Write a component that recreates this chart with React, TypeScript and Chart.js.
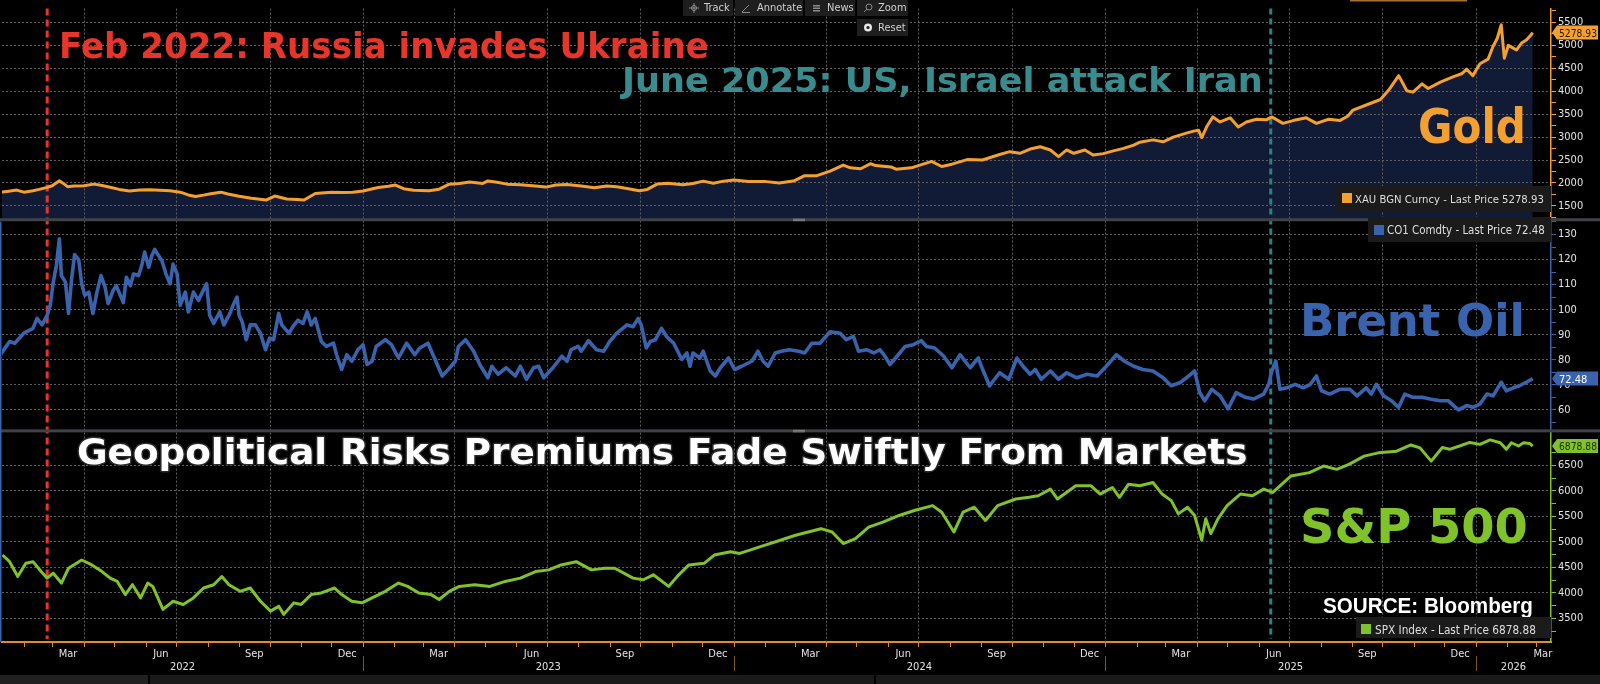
import React, { useEffect, useRef } from 'react';
import { Chart, registerables } from 'chart.js';

Chart.register(...registerables);

// x = days since 1 Jan 2022
const goldPoints: [number, number][] = [
  [9, 1800], [16, 1820], [24, 1845], [31, 1800], [40, 1830], [46, 1860], [54, 1905], [59, 1940], [66, 2050], [70, 1990],
  [74, 1920], [80, 1935], [90, 1940], [100, 1975], [107, 1950], [117, 1900], [125, 1860], [135, 1825], [145, 1845], [155, 1850],
  [165, 1840], [175, 1830], [185, 1800], [193, 1740], [200, 1705], [208, 1735], [215, 1765], [225, 1800], [232, 1760], [243, 1710],
  [255, 1665], [270, 1630], [278, 1715], [290, 1650], [300, 1640], [307, 1630], [318, 1770], [334, 1800], [345, 1790], [355, 1800],
  [365, 1825], [380, 1900], [390, 1930], [397, 1955], [405, 1875], [415, 1840], [430, 1830], [440, 1865], [450, 1975], [460, 1990],
  [470, 2020], [483, 1990], [488, 2045], [497, 2015], [507, 1975], [520, 1960], [535, 1935], [545, 1910], [555, 1955], [566, 1965],
  [580, 1935], [593, 1895], [605, 1935], [615, 1920], [625, 1880], [637, 1830], [645, 1860], [655, 1980], [665, 1995], [680, 1960],
  [690, 1990], [700, 2040], [710, 1995], [720, 2040], [730, 2065], [745, 2030], [760, 2035], [775, 2000], [790, 2050], [800, 2160],
  [812, 2160], [825, 2260], [838, 2390], [845, 2330], [855, 2310], [865, 2420], [870, 2380], [885, 2350], [890, 2300], [905, 2330],
  [925, 2470], [935, 2360], [945, 2410], [960, 2510], [975, 2500], [992, 2620], [1002, 2683], [1012, 2647], [1022, 2740], [1032, 2790],
  [1042, 2719], [1050, 2575], [1058, 2720], [1065, 2647], [1076, 2720], [1084, 2611], [1094, 2640], [1104, 2700], [1114, 2755], [1124, 2826],
  [1130, 2890], [1143, 2940], [1153, 2898], [1163, 3000], [1175, 3080], [1183, 3130], [1188, 3150], [1191, 2990], [1196, 3230], [1202, 3440],
  [1209, 3330], [1219, 3420], [1227, 3220], [1235, 3330], [1245, 3390], [1255, 3380], [1260, 3440], [1271, 3300], [1281, 3360], [1294, 3420],
  [1304, 3300], [1316, 3390], [1327, 3360], [1335, 3460], [1340, 3590], [1353, 3700], [1367, 3820], [1375, 4020], [1385, 4340], [1393, 4010],
  [1399, 3980], [1408, 4160], [1414, 4060], [1426, 4200], [1439, 4320], [1447, 4380], [1452, 4480], [1458, 4340], [1465, 4600], [1473, 4700],
  [1478, 4980], [1482, 5150], [1486, 5450], [1489, 4720], [1493, 5000], [1497, 4950], [1501, 4900], [1506, 5050], [1511, 5120], [1515, 5220],
  [1517, 5278.93],
];

const oilPoints: [number, number][] = [
  [8, 82.0], [17, 87.3], [22, 86.6], [31, 90.6], [40, 92.5], [44, 96.5], [49, 93.9], [54, 97.8], [57, 101.7], [60, 111],
  [63, 117.5], [66, 128.3], [68, 113.6], [72, 111], [75, 98.5], [78, 112], [81, 122], [85, 120], [88, 110.3], [91, 105.7],
  [95, 107], [99, 98.5], [103, 107], [107, 113.6], [111, 109], [114, 102.4], [119, 107.7], [122, 109.6], [126, 105.7], [129, 102.8],
  [132, 112.9], [136, 109.6], [139, 114.2], [144, 113.6], [147, 117.5], [150, 123], [154, 116.9], [157, 121.5], [160, 124.1], [163, 122],
  [167, 119.5], [171, 114.2], [175, 110.3], [178, 118.2], [182, 114.2], [185, 101.7], [190, 107], [193, 99.1], [198, 107], [203, 103.7],
  [206, 106.3], [211, 110.3], [214, 97.8], [218, 94.5], [224, 99.1], [228, 93.9], [234, 98.5], [237, 101.7], [241, 105], [243, 97.8],
  [246, 95.2], [250, 88], [254, 93.9], [259, 93.9], [264, 90.6], [269, 84], [273, 88.6], [277, 88], [282, 98.5], [285, 93.9],
  [292, 90.6], [296, 93.2], [301, 95.8], [306, 94.5], [310, 99.1], [314, 93.9], [318, 96.5], [324, 87.3], [329, 85.3], [336, 86.6],
  [339, 82], [344, 76.1], [349, 82], [354, 79.4], [360, 84], [365, 86], [369, 78.1], [374, 79.4], [378, 85.3], [387, 88],
  [393, 86], [400, 80.7], [408, 86.6], [416, 82], [421, 84.7], [429, 86.6], [434, 82], [443, 73.5], [449, 76.1], [456, 79.4],
  [459, 85.3], [466, 88], [474, 83.4], [480, 78.1], [488, 72.8], [492, 77.4], [498, 74.2], [506, 76.8], [515, 73.5], [520, 77.4],
  [526, 72.2], [533, 76.8], [538, 77.4], [543, 72.8], [552, 76.8], [561, 81.4], [566, 79.4], [570, 84], [577, 85.3], [580, 83.4],
  [587, 87.6], [595, 84], [602, 83.4], [608, 87.3], [615, 90.6], [625, 93.9], [631, 93.2], [636, 96.5], [639, 93.9], [644, 84.7],
  [648, 87.3], [653, 88], [659, 92.5], [664, 89.3], [671, 86.6], [679, 80.1], [684, 82.7], [687, 77.4], [690, 82.7], [697, 80.7],
  [700, 83.4], [707, 75.5], [712, 73.5], [717, 76.8], [725, 80.7], [731, 76.1], [738, 77.4], [748, 79.4], [754, 83.4], [759, 79.4],
  [764, 77.4], [771, 82.7], [777, 83.4], [785, 84], [794, 83.4], [800, 82.7], [807, 86.6], [815, 86.6], [825, 91.2], [835, 90.6],
  [841, 88], [848, 89.3], [853, 83.4], [861, 84], [868, 82.7], [874, 84], [879, 81.4], [884, 78.1], [891, 81.4], [899, 85.3],
  [907, 86], [915, 87.6], [920, 85.3], [928, 84.7], [937, 81.4], [945, 76.8], [953, 82], [963, 76.8], [971, 80.7], [974, 77.4],
  [982, 69.6], [992, 74.8], [1001, 72.2], [1009, 80.7], [1015, 77.4], [1022, 74.2], [1027, 76.1], [1033, 72.2], [1042, 75.5], [1050, 72.2],
  [1058, 74.8], [1068, 72.8], [1078, 74.2], [1088, 73.5], [1097, 77.4], [1107, 82], [1115, 79.4], [1124, 77.4], [1133, 76.1], [1143, 75.5],
  [1153, 72.8], [1161, 69.6], [1170, 70.9], [1176, 72.8], [1184, 75.5], [1189, 66.9], [1194, 63.6], [1201, 68.2], [1209, 65.6], [1217, 60.4],
  [1225, 66.9], [1234, 65], [1242, 64.3], [1252, 66.3], [1257, 70.2], [1260, 75.5], [1264, 79.4], [1268, 68.2], [1275, 68.8], [1283, 70.2],
  [1291, 68.8], [1298, 70.2], [1304, 73.5], [1309, 67.6], [1317, 66.3], [1327, 68.2], [1337, 68.2], [1344, 65.6], [1353, 68.8], [1358, 66.3],
  [1363, 70.2], [1370, 65.6], [1378, 63.6], [1385, 61], [1391, 66.3], [1399, 65], [1408, 65], [1416, 64.3], [1426, 63.6], [1434, 63.6],
  [1439, 61.7], [1444, 60], [1452, 61.7], [1458, 61], [1465, 62.3], [1472, 66.3], [1478, 65.6], [1486, 71], [1491, 67.6], [1498, 68.8],
  [1504, 69.6], [1508, 70.5], [1512, 71.3], [1517, 72.48],
];

const spxPoints: [number, number][] = [
  [10, 4741], [17, 4611], [25, 4320], [33, 4579], [40, 4611], [48, 4417], [54, 4288], [60, 4385], [68, 4191], [75, 4482],
  [88, 4644], [98, 4547], [108, 4417], [116, 4288], [123, 4223], [131, 3965], [138, 4159], [146, 3900], [153, 4191], [158, 4126],
  [168, 3674], [178, 3835], [188, 3771], [198, 3900], [208, 4094], [218, 4159], [226, 4320], [233, 4159], [244, 4029], [254, 4094],
  [264, 3835], [274, 3641], [282, 3738], [287, 3577], [297, 3803], [304, 3771], [314, 3965], [324, 3997], [337, 4094], [344, 3965],
  [354, 3835], [364, 3803], [374, 3900], [387, 4029], [400, 4191], [409, 4126], [420, 3997], [432, 3965], [440, 3868], [450, 4029],
  [460, 4126], [475, 4159], [490, 4126], [505, 4223], [520, 4288], [535, 4417], [548, 4450], [560, 4547], [575, 4611], [590, 4450],
  [603, 4482], [613, 4482], [631, 4288], [641, 4256], [651, 4353], [666, 4126], [676, 4353], [686, 4547], [701, 4579], [711, 4741],
  [727, 4805], [736, 4773], [746, 4838], [761, 4935], [776, 5032], [791, 5129], [816, 5258], [827, 5193], [838, 4967], [850, 5064],
  [863, 5290], [877, 5388], [893, 5517], [908, 5614], [926, 5711], [935, 5582], [947, 5193], [956, 5582], [967, 5679], [978, 5420],
  [990, 5711], [1008, 5840], [1021, 5873], [1030, 5905], [1042, 6034], [1049, 5840], [1067, 6099], [1082, 6099], [1091, 5937], [1103, 6067],
  [1110, 5873], [1119, 6131], [1130, 6099], [1143, 6164], [1152, 5937], [1161, 5808], [1168, 5549], [1177, 5679], [1184, 5517], [1191, 5032],
  [1195, 5452], [1200, 5161], [1207, 5452], [1216, 5711], [1229, 5937], [1241, 5905], [1252, 6034], [1261, 5970], [1270, 6131], [1279, 6293],
  [1297, 6358], [1311, 6487], [1324, 6422], [1336, 6519], [1351, 6681], [1365, 6746], [1383, 6778], [1397, 6900], [1406, 6843], [1417, 6584],
  [1428, 6850], [1435, 6815], [1445, 6880], [1455, 6950], [1465, 6912], [1475, 7000], [1485, 6944], [1491, 6815], [1496, 6944], [1503, 6880],
  [1508, 6944], [1514, 6930], [1517, 6878.88],
];

const goldTicks = [1500, 2000, 2500, 3000, 3500, 4000, 4500, 5000, 5500];
const oilTicks = [60, 70, 80, 90, 100, 110, 120, 130];
const spxTicks = [3500, 4000, 4500, 5000, 5500, 6000, 6500];
const monthLabels = ['Jan', 'Feb', 'Mar', 'Apr', 'May', 'Jun', 'Jul', 'Aug', 'Sep', 'Oct', 'Nov', 'Dec'];
const labelledMonths = [2, 5, 8, 11];
const years = [2022, 2023, 2024, 2025, 2026];
const eventDays = [54, 1259]; // 24 Feb 2022, 13 Jun 2025
const eventTexts = ['Feb 2022: Russia invades Ukraine', 'June 2025: US, Israel attack Iran'];
const seriesNames = ['Gold', 'Brent Oil', 'S&P 500'];
const tickerNames = ['XAU BGN Curncy', 'CO1 Comdty', 'SPX Index'];
const titleText = 'Geopolitical Risks Premiums Fade Swiftly From Markets';
const sourceText = 'SOURCE: Bloomberg';
const toolbarLabels = ['Track', 'Annotate', 'News', 'Zoom', 'Reset'];

const X_MIN = 9.5;
const X_MAX = 1535;
const GOLD_RANGE = [1199, 5801];
const OIL_RANGE = [51.6, 135.9];
const SPX_RANGE = [3035, 7177];

const GOLD = '#f4a031';
const OIL = '#3a63ad';
const SPX = '#80c229';
const GRID = '#5e5e5e';
const AXIS_ORANGE = '#e08b2c';
const TRANSPARENT = 'rgba(0,0,0,0)';
const COND = '"DejaVu Sans Condensed", "Liberation Sans Narrow", "Arial Narrow", sans-serif';
const BOLD = '"DejaVu Sans", Verdana, sans-serif';
const ARIAL = '"Liberation Sans", Arial, sans-serif';

const DAY0 = Date.UTC(2022, 0, 1);
const dayOf = (y: number, m: number, d: number) => (Date.UTC(y, m, d) - DAY0) / 86400000;

function buildXTicks() {
  const out: any[] = [];
  for (const y of years) {
    for (let m = 0; m < 12; m++) {
      const start = dayOf(y, m, 1);
      const end = dayOf(y, m + 1, 1);
      if (start > X_MIN && start < X_MAX) out.push({ value: start, kind: m % 3 === 0 ? 'quarter' : 'month' });
      if (labelledMonths.includes(m) && start < X_MAX && end > X_MIN) {
        out.push({ value: Math.min((start + end) / 2, X_MAX - 8), kind: 'label', lab: monthLabels[m] });
      }
    }
  }
  for (const y of years) {
    const a = Math.max(dayOf(y, 0, 1), X_MIN);
    const b = Math.min(dayOf(y + 1, 0, 1), X_MAX);
    if (b > a) out.push({ value: (a + b) / 2, kind: 'year', lab: ['', String(y)] });
  }
  out.sort((p, q) => p.value - q.value);
  return out;
}
const X_TICKS = buildXTicks();

function buildYTicks(major: number[], range: number[]) {
  const step = major[1] - major[0];
  const out: any[] = [];
  const vals: number[] = [];
  major.forEach((v) => { vals.push(v); vals.push(v + step / 2); vals.push(v - step / 2); });
  Array.from(new Set(vals)).sort((a, b) => a - b).forEach((v) => {
    if (v >= range[0] && v <= range[1]) out.push({ value: v, kind: major.includes(v) ? 'major' : 'minor' });
  });
  return out;
}

function yScale(range: number[], major: number[], color: string) {
  return {
    type: 'linear',
    position: 'right',
    stack: 'panels',
    stackWeight: 1,
    min: range[0],
    max: range[1],
    afterBuildTicks: (s: any) => { s.ticks = buildYTicks(major, range); },
    afterFit: (s: any) => { s.width = 49; },
    grid: {
      color: (c: any) => (c.tick && c.tick.kind === 'major' ? GRID : TRANSPARENT),
      lineWidth: 1,
      drawTicks: true,
      tickLength: 5,
      tickColor: color,
      tickWidth: 1,
      tickBorderDash: [],
    },
    border: { display: true, color, width: 1.5, dash: [2, 2] },
    ticks: {
      autoSkip: false,
      padding: 2,
      color: '#e2e2e2',
      font: { family: COND, size: 11 },
      callback: (v: any, i: number, t: any[]) => (t[i] && t[i].kind === 'major' ? String(v) : ''),
    },
  };
}

function fitText(ctx: CanvasRenderingContext2D, text: string, x: number, base: number, width: number, capH: number,
  weight: string, family: string, color: string, stroke?: string) {
  ctx.save();
  ctx.font = `${weight} 100px ${family}`;
  const w = ctx.measureText(text).width;
  const size = (100 * width) / w;
  ctx.font = `${weight} ${size}px ${family}`;
  const cap = ctx.measureText('H').actualBoundingBoxAscent || size * 0.73;
  const sy = capH ? capH / cap : 1;
  ctx.translate(x, base);
  ctx.scale(1, sy);
  ctx.textAlign = 'left';
  ctx.textBaseline = 'alphabetic';
  if (stroke) {
    ctx.lineWidth = 3;
    ctx.lineJoin = 'round';
    ctx.strokeStyle = stroke;
    ctx.strokeText(text, 0, 0);
  }
  ctx.fillStyle = color;
  ctx.fillText(text, 0, 0);
  ctx.restore();
}

function drawTag(ctx: CanvasRenderingContext2D, y: number, text: string, bg: string, fg: string) {
  const x0 = 1552;
  const h = 14;
  ctx.save();
  ctx.beginPath();
  ctx.moveTo(x0, y);
  ctx.lineTo(x0 + 5, y - h / 2);
  ctx.lineTo(1598, y - h / 2);
  ctx.lineTo(1598, y + h / 2);
  ctx.lineTo(x0 + 5, y + h / 2);
  ctx.closePath();
  ctx.fillStyle = bg;
  ctx.fill();
  ctx.restore();
  ctx.save();
  ctx.font = `11px ${COND}`;
  const w = ctx.measureText(text).width;
  const maxW = 38;
  ctx.translate(1559, y + 4);
  if (w > maxW) ctx.scale(maxW / w, 1);
  ctx.fillStyle = fg;
  ctx.textAlign = 'left';
  ctx.textBaseline = 'alphabetic';
  ctx.fillText(text, 0, 0);
  ctx.restore();
}

function drawLegend(ctx: CanvasRenderingContext2D, box: number[], sq: number[], textX: number, base: number, textW: number,
  text: string, color: string) {
  ctx.save();
  ctx.fillStyle = '#1b1b1b';
  ctx.fillRect(box[0], box[1], box[2], box[3]);
  ctx.fillStyle = color;
  ctx.fillRect(sq[0], sq[1], sq[2], sq[3]);
  ctx.restore();
  fitText(ctx, text, textX, base, textW, 0, 'normal', COND, '#dedede');
}

const overlayPlugin = {
  id: 'overlay',
  beforeDatasetsDraw(chart: any) {
    const { ctx, chartArea, scales } = chart;
    const xs = scales.x;
    // quarterly vertical grid lines and monthly tick marks from the x scale's ticks
    ctx.save();
    ctx.strokeStyle = GRID;
    ctx.lineWidth = 1;
    ctx.setLineDash([2, 2]);
    ctx.beginPath();
    xs.ticks.forEach((t: any) => {
      if (t.kind === 'quarter') {
        const x = Math.round(xs.getPixelForValue(t.value)) + 0.5;
        ctx.moveTo(x, chartArea.top);
        ctx.lineTo(x, chartArea.bottom);
      }
    });
    ctx.stroke();
    ctx.setLineDash([]);
    ctx.strokeStyle = AXIS_ORANGE;
    ctx.beginPath();
    xs.ticks.forEach((t: any) => {
      if (t.kind === 'quarter' || t.kind === 'month') {
        const x = Math.round(xs.getPixelForValue(t.value)) + 0.5;
        ctx.moveTo(x, chartArea.bottom + 1);
        ctx.lineTo(x, chartArea.bottom + 5);
      }
    });
    ctx.stroke();
    ctx.restore();

    const styles = [
      { color: '#e6352b', dash: [7, 4] },
      { color: '#2c8183', dash: [6, 4] },
    ];
    eventDays.forEach((d, i) => {
      const x = xs.getPixelForValue(d);
      ctx.save();
      ctx.strokeStyle = styles[i].color;
      ctx.lineWidth = 3;
      ctx.setLineDash(styles[i].dash);
      ctx.beginPath();
      ctx.moveTo(x, chartArea.top);
      ctx.lineTo(x, chartArea.bottom - 3);
      ctx.stroke();
      ctx.restore();
    });
  },
  afterDraw(chart: any) {
    const { ctx, chartArea, scales } = chart;
    const W = chart.width;
    const seps = [scales.yGold.bottom, scales.yOil.bottom];
    ctx.save();
    seps.forEach((y: number) => {
      ctx.fillStyle = '#3f4247';
      ctx.fillRect(0, y - 1.5, W, 3);
      ctx.fillStyle = '#9a9a9a';
      ctx.fillRect(793, y - 1, 12, 0.8);
      ctx.fillRect(793, y + 0.6, 12, 0.8);
    });
    ctx.fillStyle = OIL;
    ctx.fillRect(0, scales.yOil.top + 2, 1.5, chartArea.bottom - scales.yOil.top - 2);
    ctx.fillStyle = '#a8702c';
    ctx.fillRect(1350, 0, 117, 1.5);
    ctx.strokeStyle = '#7d5120';
    ctx.lineWidth = 1;
    years.forEach((y) => {
      const d = dayOf(y, 0, 1);
      if (d > X_MIN && d < X_MAX) {
        const x = Math.round(scales.x.getPixelForValue(d)) + 0.5;
        ctx.beginPath();
        ctx.moveTo(x, 656);
        ctx.lineTo(x, 671);
        ctx.stroke();
      }
    });
    ctx.restore();

    fitText(ctx, eventTexts[0], 59, 58, 650, 26, 'bold', BOLD, '#e6352b');
    fitText(ctx, eventTexts[1], 622, 92, 641, 25, 'bold', BOLD, '#3a8b8d');
    fitText(ctx, seriesNames[0], 1418, 143, 108, 36, 'bold', BOLD, GOLD);
    fitText(ctx, seriesNames[1], 1300, 336, 225, 33, 'bold', BOLD, OIL);
    fitText(ctx, seriesNames[2], 1300, 543, 228, 35, 'bold', BOLD, SPX);
    fitText(ctx, titleText, 77, 464, 1171, 26, 'bold', BOLD, '#ffffff', '#2a2a2a');
    fitText(ctx, sourceText, 1323, 613, 210, 15, 'bold', ARIAL, '#ffffff');

    const gLast = goldPoints[goldPoints.length - 1][1];
    const oLast = oilPoints[oilPoints.length - 1][1];
    const sLast = spxPoints[spxPoints.length - 1][1];
    drawLegend(ctx, [1335, 186, 216, 26], [1342, 193, 10, 10], 1355, 203, 189,
      `${tickerNames[0]} - Last Price ${gLast.toFixed(2)}`, GOLD);
    drawLegend(ctx, [1368, 217, 183, 25], [1374, 225, 10, 10], 1387, 234, 158,
      `${tickerNames[1]} - Last Price ${oLast.toFixed(2)}`, OIL);
    drawLegend(ctx, [1356, 617, 195, 21], [1361, 624, 10, 10], 1375, 634, 161,
      `${tickerNames[2]} - Last Price ${sLast.toFixed(2)}`, SPX);

    drawTag(ctx, scales.yGold.getPixelForValue(gLast), gLast.toFixed(2), GOLD, '#2a1a00');
    drawTag(ctx, scales.yOil.getPixelForValue(oLast), oLast.toFixed(2), OIL, '#ffffff');
    drawTag(ctx, scales.ySpx.getPixelForValue(sLast), sLast.toFixed(2), SPX, '#1a2a00');

    const btns = [
      { x: 683, y: 0, w: 50, h: 16, tx: 704 },
      { x: 735, y: 0, w: 68, h: 16, tx: 757 },
      { x: 805, y: 0, w: 50, h: 16, tx: 827 },
      { x: 857, y: 0, w: 51, h: 16, tx: 878 },
      { x: 857, y: 19, w: 51, h: 17, tx: 878 },
    ];
    ctx.save();
    btns.forEach((b, i) => {
      ctx.fillStyle = '#1e1e1e';
      ctx.fillRect(b.x, b.y, b.w, b.h);
      ctx.fillStyle = '#cfcfcf';
      ctx.font = `11px ${COND}`;
      ctx.textAlign = 'left';
      ctx.textBaseline = 'middle';
      ctx.fillText(toolbarLabels[i], b.tx, b.y + b.h / 2 + 0.5);
      const cx = b.x + 11;
      const cy = b.y + b.h / 2;
      ctx.strokeStyle = '#8a8a8a';
      ctx.fillStyle = '#8a8a8a';
      ctx.lineWidth = 1;
      ctx.beginPath();
      if (i === 0) {
        ctx.arc(cx, cy, 2.5, 0, Math.PI * 2);
        ctx.moveTo(cx - 5, cy); ctx.lineTo(cx + 5, cy);
        ctx.moveTo(cx, cy - 5); ctx.lineTo(cx, cy + 5);
        ctx.stroke();
      } else if (i === 1) {
        ctx.moveTo(cx - 4, cy + 4); ctx.lineTo(cx + 3, cy - 3);
        ctx.moveTo(cx - 4, cy + 4.5); ctx.lineTo(cx + 4, cy + 4.5);
        ctx.stroke();
      } else if (i === 2) {
        ctx.fillRect(cx - 3, cy - 3, 7, 1.5);
        ctx.fillRect(cx - 3, cy - 0.5, 7, 1.5);
        ctx.fillRect(cx - 3, cy + 2, 7, 1.5);
      } else if (i === 3) {
        ctx.arc(cx + 1, cy - 1, 3, 0, Math.PI * 2);
        ctx.moveTo(cx - 1, cy + 1); ctx.lineTo(cx - 4, cy + 4);
        ctx.stroke();
      } else {
        ctx.fillStyle = '#e8e8e8';
        ctx.arc(cx, cy, 4, 0, Math.PI * 2);
        ctx.fill();
        ctx.beginPath();
        ctx.fillStyle = '#1e1e1e';
        ctx.arc(cx, cy, 1.6, 0, Math.PI * 2);
        ctx.fill();
      }
    });
    ctx.restore();
  },
};

const toXY = (pts: [number, number][]) => pts.map(([x, y]) => ({ x, y }));

export default function App() {
  const ref = useRef<HTMLCanvasElement>(null);
  useEffect(() => {
    document.body.style.margin = '0';
    document.body.style.background = '#000';
    const chart = new Chart(ref.current as HTMLCanvasElement, {
      type: 'line',
      data: {
        datasets: [
          {
            label: 'Gold', data: toXY(goldPoints), yAxisID: 'yGold', borderColor: GOLD, borderWidth: 3,
            pointRadius: 0, fill: 'start', backgroundColor: '#111b36', tension: 0, borderJoinStyle: 'round',
          },
          {
            label: 'Brent', data: toXY(oilPoints), yAxisID: 'yOil', borderColor: OIL, borderWidth: 3.6,
            pointRadius: 0, fill: false, tension: 0, borderJoinStyle: 'round',
          },
          {
            label: 'SPX', data: toXY(spxPoints), yAxisID: 'ySpx', borderColor: SPX, borderWidth: 3,
            pointRadius: 0, fill: false, tension: 0, borderJoinStyle: 'round',
          },
        ] as any,
      },
      options: {
        animation: false,
        responsive: false,
        devicePixelRatio: 1,
        layout: { padding: { left: 2, top: 0, right: 0, bottom: 0 } },
        plugins: {
          legend: { display: false },
          tooltip: { enabled: false },
          filler: { drawTime: 'beforeDraw' },
        } as any,
        scales: {
          x: {
            type: 'linear',
            position: 'bottom',
            min: X_MIN,
            max: X_MAX,
            afterBuildTicks: (s: any) => { s.ticks = X_TICKS.map((t) => ({ ...t })); },
            afterFit: (s: any) => { s.height = 33; },
            grid: { display: false },
            border: { display: true, color: AXIS_ORANGE, width: 2 },
            ticks: {
              autoSkip: false,
              maxRotation: 0,
              minRotation: 0,
              padding: -2,
              color: '#e2e2e2',
              font: { family: COND, size: 11, lineHeight: '12.5px' },
              callback: (v: any, i: number, t: any[]) => (t[i] && t[i].lab !== undefined ? t[i].lab : ''),
            },
          },
          yGold: yScale(GOLD_RANGE, goldTicks, GOLD),
          yOil: yScale(OIL_RANGE, oilTicks, OIL),
          ySpx: yScale(SPX_RANGE, spxTicks, SPX),
        } as any,
      },
      plugins: [overlayPlugin],
    } as any);
    return () => chart.destroy();
  }, []);

  return (
    <div style={{ width: 1600, height: 684, background: '#000', overflow: 'hidden' }}>
      <canvas ref={ref} width={1600} height={675} style={{ display: 'block', width: 1600, height: 675 }} />
      <div style={{ height: 9, display: 'flex', background: '#000' }}>
        <div style={{ width: 148, background: '#202020' }} />
        <div style={{ width: 2 }} />
        <div style={{ width: 724, background: '#1a1a1a' }} />
        <div style={{ width: 2 }} />
        <div style={{ flex: 1, background: '#1a1a1a' }} />
      </div>
    </div>
  );
}
